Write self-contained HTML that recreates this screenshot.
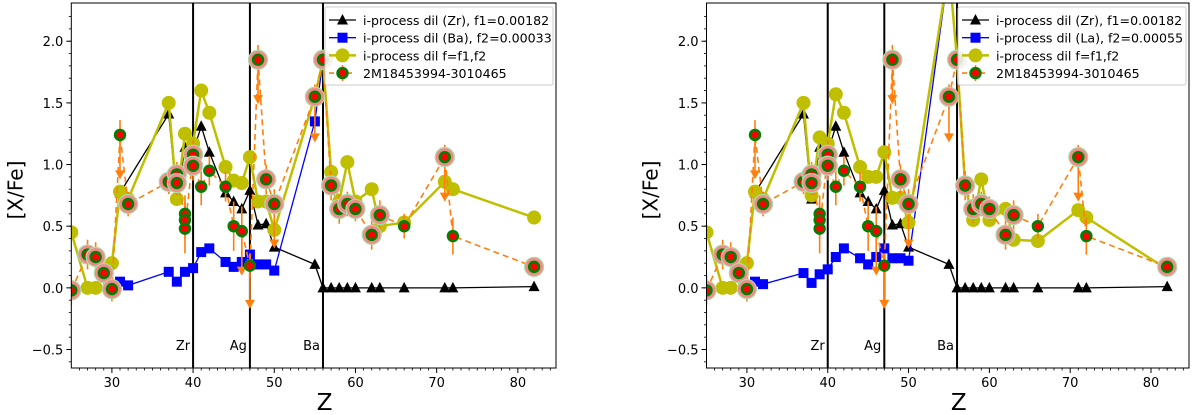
<!DOCTYPE html>
<html><head><meta charset="utf-8"><style>
body{margin:0;background:#fff}
svg{display:block;font-family:"DejaVu Sans","Liberation Sans",sans-serif}
</style></head><body>
<svg id="c" width="1200" height="415" xmlns="http://www.w3.org/2000/svg"></svg>
<script>
// ---- data ----
const obsZ = [25,27,28,29,30,31,32,37,38,38,39,39,39,40,40,41,42,44,45,46,47,48,49,50,55,56,57,58,59,60,62,63,66,71,72,82];
const obsV = [-0.02,0.27,0.25,0.12,-0.01,1.24,0.68,0.86,0.92,0.85,0.6,0.55,0.48,1.08,0.99,0.82,0.95,0.82,0.5,0.46,0.18,1.85,0.88,0.68,1.55,1.85,0.83,0.64,0.68,0.64,0.43,0.59,0.5,1.06,0.42,0.17];
const obsHalo = [1,1,1,1,1,0,1,1,1,1,0,0,0,1,1,0,0,0,0,0,0,1,1,1,1,1,1,1,1,1,1,1,0,1,0,1];
const obsErr = [0.12,0.12,0.12,0.1,0.1,0.12,0.1,0.1,0.1,0.1,0.15,0.15,0.2,0.12,0.12,0.15,0.12,0.12,0.2,0.2,0.1,0.12,0.12,0.12,0.1,0.05,0.12,0.12,0.1,0.1,0.12,0.12,0.1,0.1,0.15,0.05];
const limZ = [31,46,47,48,50,55,71];
const limV = [0.92,0.14,-0.13,1.53,0.36,1.22,0.74];
const yelZ = [25,27,28,30,31,32,37,38,39,40,41,42,44,45,46,47,48,49,50,55,56,57,58,59,60,62,63,66,71,72,82];
const yelL = [0.45,0,0,0.2,0.78,0.72,1.5,0.72,1.25,1.17,1.6,1.42,0.98,0.87,0.85,1.06,0.7,0.7,0.47,1.55,1.85,0.94,0.7,1.02,0.7,0.8,0.5,0.53,0.86,0.8,0.57];
const yelR = [0.45,0,0,0.2,0.78,0.72,1.5,0.75,1.22,1.17,1.57,1.42,0.98,0.9,0.9,1.1,0.73,0.73,0.53,2.6,1.85,0.83,0.55,0.88,0.55,0.64,0.39,0.38,0.63,0.57,0.15];
const blkZ = [31,37,38,39,40,41,42,44,45,46,47,48,49,50,55,56,57,58,59,60,62,63,66,71,72,82];
const blkV = [0.77,1.41,0.72,1.14,1.1,1.31,1.1,0.77,0.7,0.64,0.79,0.51,0.52,0.33,0.19,0,0,0,0,0,0,0,0,0,0,0.01];
const bluZ = [30,31,32,37,38,39,40,41,42,44,45,46,47,48,49,50,55,56,57,58,59,60,62,63,66,71,72,82];
const bluL = [0,0.05,0.02,0.13,0.05,0.13,0.16,0.29,0.32,0.21,0.17,0.21,0.27,0.19,0.19,0.14,1.35,1.85,0.94,0.7,1.02,0.7,0.8,0.5,0.53,0.86,0.8,0.57];
const bluR = [0,0.05,0.03,0.12,0.04,0.11,0.15,0.25,0.32,0.24,0.19,0.25,0.32,0.24,0.24,0.22,2.6,1.85,0.83,0.55,0.88,0.55,0.64,0.39,0.38,0.63,0.57,0.15];
const xTicks = [30,40,50,60,70,80];
const yTicks = [-0.5,0,0.5,1,1.5,2];
const yTickLabels = ["\u22120.5","0.0","0.5","1.0","1.5","2.0"];
const vLineZ = [40,47,56];
const vLineLab = ["Zr","Ag","Ba"];

const NS="http://www.w3.org/2000/svg";
const svg=document.getElementById('c');
function el(tag,attrs,parent){const e=document.createElementNS(NS,tag);for(const k in attrs)e.setAttribute(k,attrs[k]);(parent||svg).appendChild(e);return e;}

function panel(idx,x0,x1,yel,blu,legBlue){
  const xmin=25,xmax=84.7,ymin=-0.65,ymax=2.31,top=3,bot=368;
  const X=z=>x0+(z-xmin)/(xmax-xmin)*(x1-x0);
  const Y=v=>bot-(v-ymin)/(ymax-ymin)*(bot-top);
  const g=el('g',{});
  
  
  const cid='clip'+idx;
  const cp=el('clipPath',{id:cid},g);el('rect',{x:x0,y:top,width:x1-x0,height:bot-top},cp);
  const pl=el('g',{'clip-path':'url(#'+cid+')'},g);
  
  
  vLineZ.forEach((z,i)=>{
    const l=el('line',{x1:X(z),x2:X(z),y1:top,y2:bot,stroke:'#000','stroke-width':2},pl);
    
    
    const t=el('text',{x:X(z)-3,y:350,'font-size':13,'text-anchor':'end',fill:'#000'},g);t.textContent=vLineLab[i];
    
    
  });
  const pts=(Z,V)=>Z.map((z,i)=>X(z)+','+Y(V[i])).join(' ');
  const bl=el('polyline',{points:pts(blkZ,blkV),fill:'none',stroke:'#000','stroke-width':1.3},pl);
  
  
  blkZ.forEach((z,i)=>{const x=X(z),y=Y(blkV[i]);
    const m=el('polygon',{points:`${x},${y-6} ${x-5.5},${y+4.5} ${x+5.5},${y+4.5}`,fill:'#000'},pl);
    
    });
  const bu=el('polyline',{points:pts(bluZ,blu),fill:'none',stroke:'#0000ff','stroke-width':1.3},pl);
  
  
  bluZ.forEach((z,i)=>{const x=X(z),y=Y(blu[i]);
    const m=el('rect',{x:x-5,y:y-5,width:10,height:10,fill:'#0000ff'},pl);
    
    });
  const yl=el('polyline',{points:pts(yelZ,yel),fill:'none',stroke:'#bfbf00','stroke-width':2.5},pl);
  
  
  yelZ.forEach((z,i)=>{
    const m=el('circle',{cx:X(z),cy:Y(yel[i]),r:7,fill:'#bfbf00'},pl);
    
    });
  const ol=el('polyline',{points:pts(obsZ,obsV),fill:'none',stroke:'#ff7f0e','stroke-width':1.6,'stroke-dasharray':'6,4'},pl);
  
  
  obsZ.forEach((z,i)=>{
    const e=el('line',{x1:X(z),x2:X(z),y1:Y(obsV[i]+obsErr[i]),y2:Y(obsV[i]-obsErr[i]),stroke:'#ff7f0e','stroke-width':1.6},pl);
    
    });
  limZ.forEach((z,i)=>{const x=X(z),y=Y(limV[i]);
    const l=el('line',{x1:x,x2:x,y1:Y(limV[i]+0.25),y2:y,stroke:'#ff7f0e','stroke-width':1.6},pl);
    
    
    const a=el('polygon',{points:`${x-5},${y-4} ${x+5},${y-4} ${x},${y+5}`,fill:'#ff7f0e'},pl);
    
    });
  obsZ.forEach((z,i)=>{const x=X(z),y=Y(obsV[i]);
    const gg=el('g',{},pl);
    
    
    if(obsHalo[i]) el('circle',{cx:x,cy:y,r:9.5,fill:'#f28a8a',stroke:'#a8dca8','stroke-width':1.2},gg);
    el('circle',{cx:x,cy:y,r:6.2,fill:'#008000'},gg);
    el('circle',{cx:x,cy:y,r:3.6,fill:'#ff0000'},gg);});
  const fr=el('rect',{x:x0,y:top,width:x1-x0,height:bot-top,fill:'none',stroke:'#000','stroke-width':1},g);
  
  
  for(let z=26;z<=84;z++){ if(z%10===0) continue; el('line',{x1:X(z),x2:X(z),y1:bot,y2:bot+2.5,stroke:'#000','stroke-width':0.8},g);}
  xTicks.forEach(z=>{el('line',{x1:X(z),x2:X(z),y1:bot,y2:bot+5,stroke:'#000','stroke-width':1},g);
    const t=el('text',{x:X(z),y:bot+19,'font-size':13,'text-anchor':'middle'},g);t.textContent=z;
    
    });
  for(let v=-0.6;v<=2.3;v+=0.1){ el('line',{x1:x0-2.5,x2:x0,y1:Y(v),y2:Y(v),stroke:'#000','stroke-width':0.8},g);}
  yTicks.forEach((v,i)=>{el('line',{x1:x0-5,x2:x0,y1:Y(v),y2:Y(v),stroke:'#000','stroke-width':1},g);
    const t=el('text',{x:x0-8,y:Y(v)+5,'font-size':13,'text-anchor':'end'},g);t.textContent=yTickLabels[i];
    
    });
  const xt=el('text',{x:(x0+x1)/2+11,y:410,'font-size':23,'text-anchor':'middle'},g);xt.textContent='Z';
  
  
  const yt=el('text',{x:0,y:0,'font-size':20,'text-anchor':'middle',transform:`translate(${x0-49},190) rotate(-90)`},g);yt.textContent='[X/Fe]';
  
  
  const lx=x1-231, ly=7;
  const lg=el('g',{},g);
  
  
  el('rect',{x:lx,y:ly,width:228,height:78,fill:'#fff','fill-opacity':0.85,stroke:'#ccc','stroke-width':1,rx:2},lg);
  const labs=['i-process dil (Zr), f1=0.00182',legBlue,'i-process dil f=f1,f2','2M18453994-3010465'];
  labs.forEach((s,i)=>{
    const cy=ly+13+i*17.7, sx=lx+4, ex=lx+31, mx=(sx+ex)/2;
    const en=el('g',{},lg);
    
    
    if(i===0){el('line',{x1:sx,x2:ex,y1:cy,y2:cy,stroke:'#000','stroke-width':1.3},en);el('polygon',{points:`${mx},${cy-6} ${mx-5.5},${cy+4.5} ${mx+5.5},${cy+4.5}`},en);}
    if(i===1){el('line',{x1:sx,x2:ex,y1:cy,y2:cy,stroke:'#00f','stroke-width':1.3},en);el('rect',{x:mx-5,y:cy-5,width:10,height:10,fill:'#00f'},en);}
    if(i===2){el('line',{x1:sx,x2:ex,y1:cy,y2:cy,stroke:'#bfbf00','stroke-width':2.5},en);el('circle',{cx:mx,cy:cy,r:7,fill:'#bfbf00'},en);}
    if(i===3){el('line',{x1:sx,x2:ex,y1:cy,y2:cy,stroke:'#ff7f0e','stroke-width':1.6,'stroke-dasharray':'5,4'},en);el('line',{x1:mx,x2:mx,y1:cy-8,y2:cy+8,stroke:'#ff7f0e','stroke-width':1.6},en);el('circle',{cx:mx,cy:cy,r:6.2,fill:'#008000'},en);el('circle',{cx:mx,cy:cy,r:3.6,fill:'#f00'},en);}
    const t=el('text',{x:lx+38,y:cy+5,'font-size':12.6},en);t.textContent=s;
  });
  svg.appendChild(g);
}
panel(1,71.3,556,yelL,bluL,'i-process dil (Ba), f2=0.00033');
panel(2,706.5,1189,yelR,bluR,'i-process dil (La), f2=0.00055');
</script>
</body></html>
